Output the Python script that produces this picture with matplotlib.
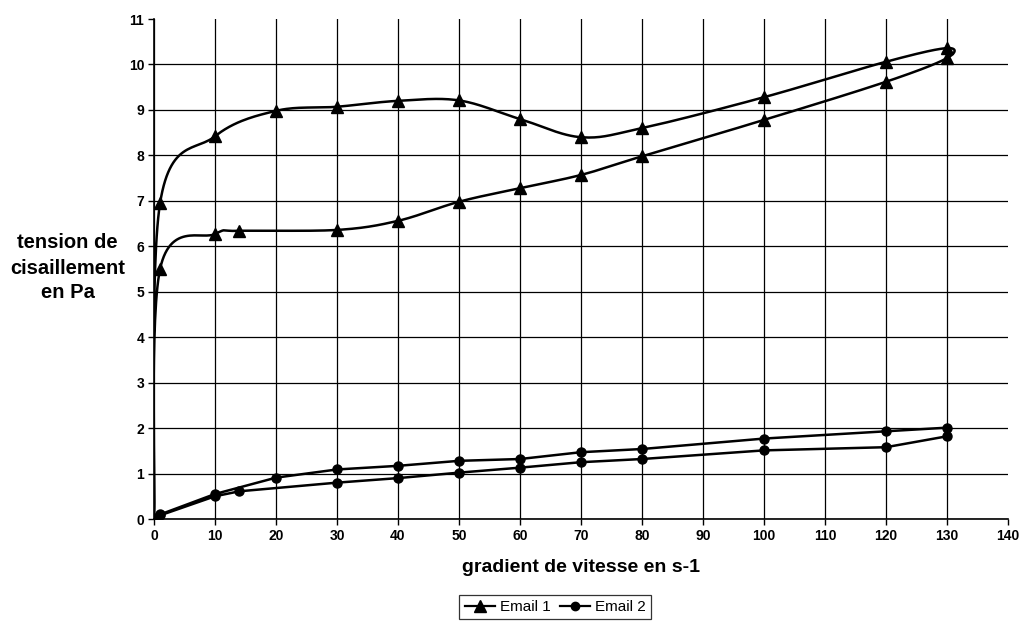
import numpy as np
import matplotlib
matplotlib.use("Agg")
import matplotlib.pyplot as plt
from matplotlib.lines import Line2D

# Email 1 : montee (x croissant) puis descente (x decroissant)
email1_x = [0, 1, 10, 20, 30, 40, 50, 60, 70, 80, 100, 120, 130,
            130, 120, 100, 80, 70, 60, 50, 40, 30, 14, 10, 1, 0]
email1_y = [0, 6.95, 8.42, 8.98, 9.07, 9.2, 9.21, 8.8, 8.4, 8.6, 9.28, 10.06, 10.36,
            10.14, 9.62, 8.78, 7.98, 7.57, 7.28, 6.98, 6.56, 6.36, 6.34, 6.27, 5.5, 0]

# Email 2
email2_x = [0, 1, 10, 20, 30, 40, 50, 60, 70, 80, 100, 120, 130,
            130, 120, 100, 80, 70, 60, 50, 40, 30, 14, 10, 1, 0]
email2_y = [0, 0.1, 0.55, 0.91, 1.09, 1.17, 1.28, 1.32, 1.47, 1.54, 1.77, 1.93, 2.01,
            1.82, 1.58, 1.51, 1.32, 1.25, 1.13, 1.02, 0.9, 0.8, 0.61, 0.5, 0.08, 0]

x_ticks = list(range(0, 141, 10))
y_ticks = list(range(0, 12))

FONT = "Liberation Sans"


def smooth(xs, ys, sx=6.1, sy=45.5, n=30):
    """Courbe lissee facon Excel (Catmull-Rom -> Bezier), calculee en pixels."""
    p = np.column_stack([np.asarray(xs, float) * sx, np.asarray(ys, float) * sy])
    out = []
    t = np.linspace(0, 1, n)[:, None]
    for i in range(len(p) - 1):
        p0 = p[max(i - 1, 0)]
        p1, p2 = p[i], p[i + 1]
        p3 = p[min(i + 2, len(p) - 1)]
        b1 = p1 + (p2 - p0) / 6
        b2 = p2 - (p3 - p1) / 6
        seg = ((1 - t) ** 3) * p1 + 3 * ((1 - t) ** 2) * t * b1 \
            + 3 * (1 - t) * t ** 2 * b2 + t ** 3 * p2
        out.append(seg if i == 0 else seg[1:])
    c = np.vstack(out)
    return c[:, 0] / sx, c[:, 1] / sy


fig = plt.figure(figsize=(10.19, 6.26), dpi=100)
ax = fig.add_axes([0.1511, 0.1709, 0.8381, 0.7987])

cx, cy = smooth(email1_x, email1_y)
ax.plot(cx, cy, color="black", lw=1.8, zorder=3)
ax.plot(email1_x, email1_y, ls="none", marker="^", ms=9, color="black", zorder=4)

ax.plot(email2_x, email2_y, color="black", lw=1.8, marker="o", ms=6.5, zorder=3)

ax.set_xlim(0, 140)
ax.set_ylim(0, 11)
ax.set_xticks(x_ticks)
ax.set_yticks(y_ticks)
ax.tick_params(direction="out", length=4, width=1, colors="black", pad=3)
for lab in ax.get_xticklabels() + ax.get_yticklabels():
    lab.set_fontfamily(FONT)
    lab.set_fontweight("bold")
    lab.set_fontsize(10)

ax.grid(True, color="black", lw=0.9)
ax.set_axisbelow(True)
# pas de ligne de quadrillage en haut (11) ni a droite (140)
ax.yaxis.get_major_ticks()[-1].gridline.set_visible(False)
ax.xaxis.get_major_ticks()[-1].gridline.set_visible(False)

for s in ["top", "right"]:
    ax.spines[s].set_visible(False)
for s in ["left", "bottom"]:
    ax.spines[s].set_linewidth(1.2)
    ax.spines[s].set_color("black")

fig.text(581 / 1019, 1 - 567 / 626, "gradient de vitesse en s-1",
         ha="center", va="center", fontsize=14, fontweight="bold", family=FONT)
fig.text(67.5 / 1019, 1 - 268 / 626, "tension de\ncisaillement\nen Pa",
         ha="center", va="center", multialignment="center", linespacing=1.4,
         fontsize=14.5, fontweight="bold", family=FONT)

handles = [
    Line2D([], [], color="black", lw=1.6, marker="^", ms=8),
    Line2D([], [], color="black", lw=1.6, marker="o", ms=6),
]
leg = fig.legend(handles, ["Email 1", "Email 2"], loc="center",
                 bbox_to_anchor=(555 / 1019, 1 - 607 / 626), ncol=2,
                 frameon=True, fancybox=False, shadow=False, handlelength=2.0,
                 handletextpad=0.3, columnspacing=0.6, borderpad=0.35,
                 prop={"family": FONT, "size": 11})
leg.get_frame().set_edgecolor("black")
leg.get_frame().set_linewidth(0.9)

fig.savefig("out.png", dpi=100, facecolor="white")
